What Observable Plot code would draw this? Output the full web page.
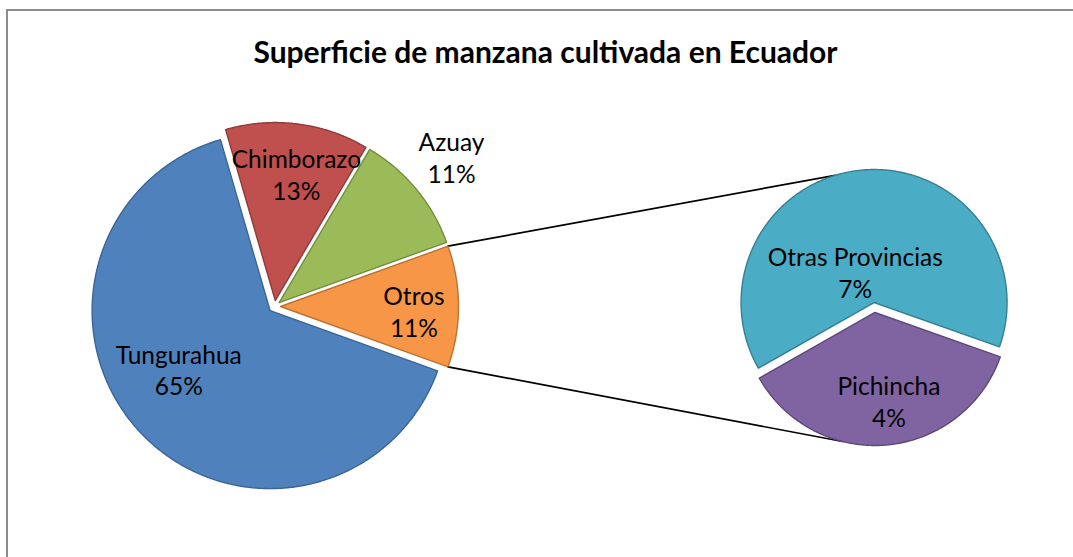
<!DOCTYPE html>
<html>
<head>
<meta charset="utf-8">
<script src="https://cdn.jsdelivr.net/npm/d3@7"></script>
<script src="https://cdn.jsdelivr.net/npm/@observablehq/plot@0.6"></script>
<style>
  html, body { margin: 0; padding: 0; background: #fff; }
  body { width: 1073px; height: 557px; overflow: hidden; position: relative; font-family: Lato, "Open Sans", sans-serif; }
  #frame { position: absolute; left: 6px; top: 9px; width: 1200px; height: 700px; border-top: 2px solid #8c8c8c; border-left: 2px solid #8c8c8c; }
  #title { position: absolute; left: 0; top: 33px; width: 1091px; text-align: center; font-family: Lato, sans-serif; font-weight: 700; font-size: 30px; line-height: 36px; color: #000; }
  #chart { position: absolute; left: 0; top: 90px; }
</style>
</head>
<body>
<div id="frame"></div>
<div id="title">Superficie de manzana cultivada en Ecuador</div>
<div id="chart"></div>
<script>
// ---- Data ----
const mainNames = ["Tungurahua", "Chimborazo", "Azuay", "Otros"];
const mainValues = [65, 13, 11, 11];
const subNames = ["Otras Provincias", "Pichincha"];
const subValues = [7, 4];

// ---- Styles ----
const mainFills = ["#4F81BD", "#C0504D", "#9BBB59", "#F79646"];
const mainStrokes = ["#3A6597", "#8E3B39", "#748E40", "#BD7232"];
const subFills = ["#4BACC6", "#8064A2"];
const subStrokes = ["#357F93", "#5D4979"];

// ---- Layout ----
const deg = Math.PI / 180;
const W = 1073, H = 467, TOP = 90;
const mainPie = {cx: 274, cy: 306, r: 178, explode: 6};
const subPie = {cx: 874, cy: 307, r: 133, explode: 5, start: -119.6 * deg};
const mainLabelLayout = [
  {k: 0.61, dA: 10.5}, {k: 0.72, dA: 2.3}, {k: 1.27, dA: -0.7}, {k: 0.75, dA: 2}
];
const subLabelLayout = [{k: 0.27, dA: -26.5}, {k: 0.67, dA: -4}];
const connectorAngles = [-17 * deg, 194 * deg];

const pt = (cx, cy, r, a) => [cx + r * Math.sin(a), cy - r * Math.cos(a)];

// Main pie: "Otros" slice is centred at 3 o'clock
const mainTotal = d3.sum(mainValues);
const otrosSpan = mainValues[3] / mainTotal * 2 * Math.PI;
const mainStart = Math.PI / 2 + otrosSpan / 2;
const mainArcs = d3.pie().sort(null).startAngle(mainStart).endAngle(mainStart + 2 * Math.PI)(mainValues);
const subArcs = d3.pie().sort(null).startAngle(subPie.start).endAngle(subPie.start + 2 * Math.PI)(subValues);

function slicePoints(arc, pie, name) {
  const mid = (arc.startAngle + arc.endAngle) / 2;
  const [cx, cy] = pt(pie.cx, pie.cy, pie.explode, mid);
  const pts = [{name, x: cx, y: cy}];
  const n = Math.max(2, Math.ceil((arc.endAngle - arc.startAngle) / (0.5 * deg)));
  for (let i = 0; i <= n; i++) {
    const a = arc.startAngle + (arc.endAngle - arc.startAngle) * i / n;
    const [x, y] = pt(cx, cy, pie.r, a);
    pts.push({name, x, y});
  }
  return {pts, cx, cy, mid};
}

const marks = [];
const labels = [];
const mainGeo = mainArcs.map((arc, i) => {
  const g = slicePoints(arc, mainPie, mainNames[i]);
  marks.push(Plot.line(g.pts, {x: "x", y: "y", curve: "linear-closed", fill: mainFills[i], stroke: mainStrokes[i], strokeWidth: 1.4}));
  const L = mainLabelLayout[i];
  const [lx, ly] = pt(g.cx, g.cy, L.k * mainPie.r, g.mid + L.dA * deg);
  labels.push({x: lx, y: ly, text: mainNames[i] + "\n" + Math.round(mainValues[i] / mainTotal * 100) + "%"});
  return g;
});
const subGeo = subArcs.map((arc, i) => {
  const g = slicePoints(arc, subPie, subNames[i]);
  marks.push(Plot.line(g.pts, {x: "x", y: "y", curve: "linear-closed", fill: subFills[i], stroke: subStrokes[i], strokeWidth: 1.4}));
  const L = subLabelLayout[i];
  const [lx, ly] = pt(g.cx, g.cy, L.k * subPie.r, g.mid + L.dA * deg);
  labels.push({x: lx, y: ly, text: subNames[i] + "\n" + Math.round(subValues[i] / mainTotal * 100) + "%"});
  return g;
});

// Connector lines from the "Otros" slice to the secondary pie
const o = mainGeo[3], oArc = mainArcs[3];
const connectors = [];
[[oArc.startAngle, subGeo[0], connectorAngles[0]], [oArc.endAngle, subGeo[1], connectorAngles[1]]].forEach(([a, g, b], i) => {
  const [x1, y1] = pt(o.cx, o.cy, mainPie.r, a);
  const [x2, y2] = pt(g.cx, g.cy, subPie.r, b);
  connectors.push({id: i, x: x1, y: y1}, {id: i, x: x2, y: y2});
});

const chart = Plot.plot({
  width: W,
  height: H,
  margin: 0,
  x: {domain: [0, W], range: [0, W], axis: null},
  y: {domain: [TOP, TOP + H], range: [0, H], axis: null},
  style: {background: "transparent", overflow: "visible"},
  marks: [
    Plot.line(connectors, {x: "x", y: "y", z: "id", stroke: "#000", strokeWidth: 1.7}),
    ...marks,
    Plot.text(labels, {x: "x", y: "y", text: "text", fontSize: 24.5, fontFamily: "Lato, sans-serif", fill: "#000", lineHeight: 1.3})
  ]
});
document.getElementById("chart").appendChild(chart);
</script>
</body>
</html>
